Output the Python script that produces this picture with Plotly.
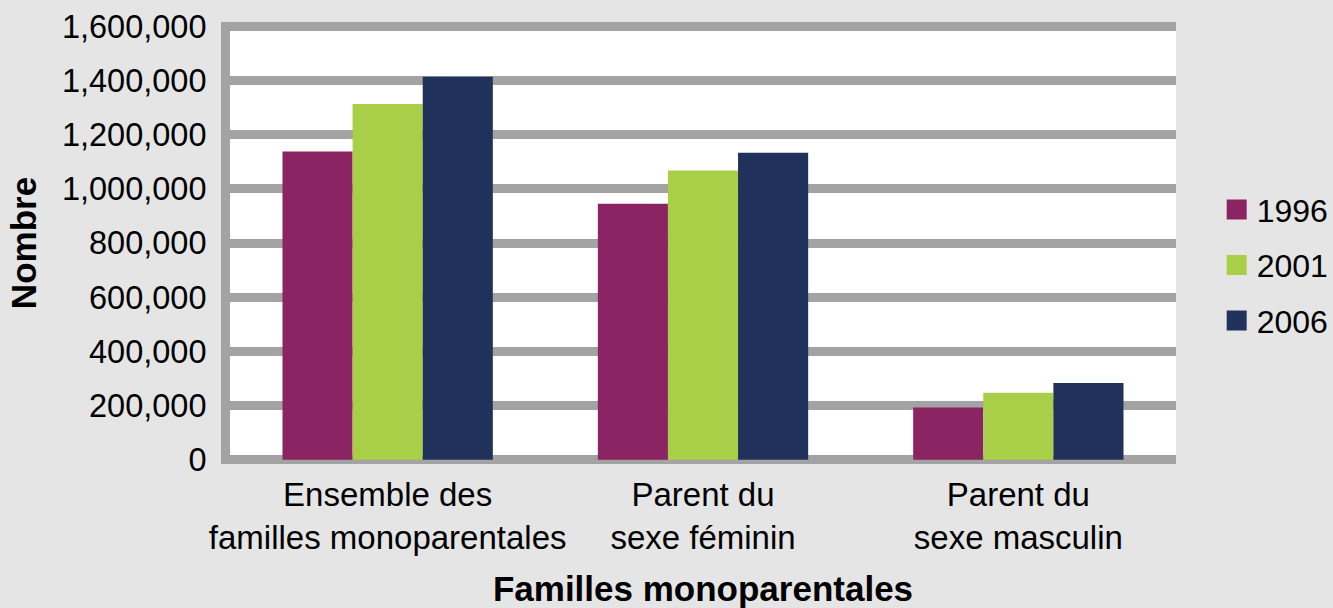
import plotly.graph_objects as go

categories = ["Ensemble des<br>familles monoparentales", "Parent du<br>sexe féminin", "Parent du<br>sexe masculin"]
years = ["1996", "2001", "2006"]
values_1996 = [1138000, 945000, 193000]
values_2001 = [1313000, 1068000, 247000]
values_2006 = [1414000, 1133000, 283000]
colors = ["#8B2463", "#A9CE47", "#20325C"]
y_ticks = [0, 200000, 400000, 600000, 800000, 1000000, 1200000, 1400000, 1600000]

series = [values_1996, values_2001, values_2006]
fig = go.Figure()
for name, vals, col in zip(years, series, colors):
    fig.add_trace(go.Bar(x=categories, y=vals, name=name, marker_color=col,
                         marker_line_width=0, showlegend=False))
for i, (name, col) in enumerate(zip(years, colors)):
    fig.add_trace(go.Scatter(x=[None], y=[None], mode="markers", name=name, legendgroup=name,
                             marker=dict(symbol="square", size=16, color=col,
                                         line=dict(color=col, width=4))))

FONT = "Liberation Sans, Arial, Helvetica, sans-serif"
fig.update_layout(
    width=1333, height=608,
    margin=dict(l=230, r=157, t=22, b=144, autoexpand=False),
    paper_bgcolor="#E5E5E5", plot_bgcolor="#FFFFFF",
    barmode="group", bargap=0.333, bargroupgap=0,
    font=dict(family=FONT, size=32, color="#000000"),
    legend=dict(x=1.043, xanchor="left", y=0.45, yanchor="middle",
                font=dict(size=32), tracegroupgap=11, traceorder="grouped",
                bgcolor="rgba(0,0,0,0)", itemwidth=30),
    xaxis=dict(showgrid=False, showline=False, ticks="", ticklabelstandoff=8, automargin=False,
               title=dict(text="<b>Familles monoparentales</b>", font=dict(size=35), standoff=22),
               tickfont=dict(size=33)),
    yaxis=dict(range=[-16000, 1616000], tickvals=y_ticks, tickformat=",d", automargin=False,
               showgrid=True, gridcolor="#A3A3A3", gridwidth=9,
               zeroline=True, zerolinecolor="#A3A3A3", zerolinewidth=9,
               showline=True, linecolor="#A3A3A3", linewidth=9,
               ticks="", ticklabelstandoff=8,
               title=dict(text="<b>Nombre</b>", font=dict(size=35), standoff=18),
               tickfont=dict(size=32.5)),
)
fig.write_html("out.html", config={"displayModeBar": False},
               post_script="document.body.style.margin='0';document.body.style.overflow='hidden';")
